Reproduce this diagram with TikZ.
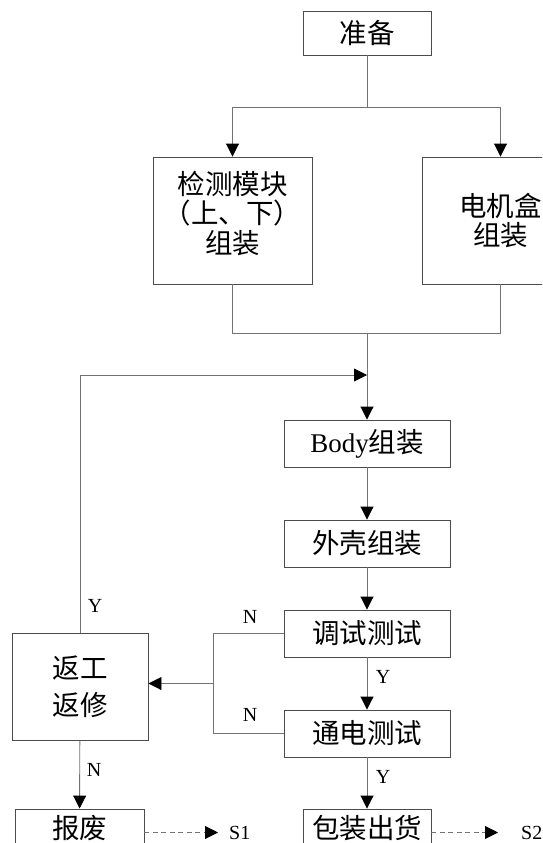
\documentclass[tikz,border=0pt]{standalone}
\usepackage{fontspec}
\setmainfont{Liberation Serif}
\newfontfamily\cjk{Noto Sans CJK SC}
\usetikzlibrary{arrows.meta}
\tikzset{
  box/.style={draw=black!70, line width=0.9pt, fill=white, inner sep=0pt, align=center,
    font=\fontsize{27.5}{29.5}\selectfont\cjk},
  boxtext/.style={inner sep=0pt, align=center, font=\fontsize{27.5}{29.5}\selectfont\cjk},
  flow/.style={draw=black!55, line width=0.9pt},
  arr/.style={flow, -{Triangle[length=13pt,width=13pt,color=black]}},
  darr/.style={arr, dash pattern=on 5pt off 3.5pt},
  lbl/.style={font=\fontsize{20}{20}\selectfont, inner sep=0pt},
}
\begin{document}
\begin{tikzpicture}[x=1pt,y=-1pt]
\useasboundingbox (0,0) rectangle (542,843);
\clip (0,0) rectangle (542,843);
% boxes
\node[box, minimum width=128pt, minimum height=44pt] (prep) at (367,33) {准备};
\node[box, minimum width=159pt, minimum height=127pt] (jc) at (232.5,220.5) {};
\node[boxtext] (jct) at ([yshift=7pt]jc.center) {检测模块\\（上、下）\\组装};
\node[box, minimum width=157pt, minimum height=127pt] (dj) at (500.5,220.5) {电机盒\\组装};
\node[box, minimum width=166pt, minimum height=47pt] (body) at (367,443.5) {{\rmfamily\fontsize{27}{29}\selectfont Body}组装};
\node[box, minimum width=166pt, minimum height=47pt] (shell) at (367,543.5) {外壳组装};
\node[box, minimum width=166pt, minimum height=47pt] (tiao) at (367,633.5) {调试测试};
\node[box, minimum width=166pt, minimum height=47pt] (tong) at (367,733.5) {通电测试};
\node[box, minimum width=128pt, minimum height=46pt] (pack) at (367,832) {};
\node[boxtext] (packt) at ([yshift=4pt]pack.center) {包装出货};
\node[box, minimum width=136pt, minimum height=107pt, font=\fontsize{27.5}{37}\selectfont\cjk] (fan) at (80,686.5) {返工\\返修};
\node[box, minimum width=129pt, minimum height=46pt] (bao) at (79.5,832) {};
\node[boxtext] (baot) at ([yshift=4pt]bao.center) {报废};
% coordinates
\coordinate (split) at (367,107);
\coordinate (merge) at (367,333);
\coordinate (fb) at (367,375);
\coordinate (brk) at (213,683.5);
\coordinate (s1) at (218,832.5);
\coordinate (s2) at (498,832.5);
% connectors
\draw[flow] (prep.south) -- (split);
\draw[arr] (split) -| (jc.north);
\draw[arr] (split) -| (dj.north);
\draw[flow] (jc.south) |- (merge);
\draw[flow] (dj.south) |- (merge);
\draw[arr] (merge) -- (body.north);
\draw[arr] (fan.north) |- (fb);
\draw[arr] (body) -- (shell);
\draw[arr] (shell) -- (tiao);
\draw[arr] (tiao) -- (tong);
\draw[arr] (tong) -- (pack);
\draw[flow] (tiao.west) -| (brk);
\draw[flow] (tong.west) -| (brk);
\draw[arr] (brk) -- (brk -| fan.east);
\draw[arr] (fan) -- (bao);
\draw[darr] (bao.east |- s1) -- (s1);
\draw[darr] (pack.east |- s2) -- (s2);
% labels
\node[lbl] (ly1) at (95,606) {Y};
\node[lbl] (ln1) at (250,617) {N};
\node[lbl] (ln2) at (250,715) {N};
\node[lbl] (ly2) at (383,677) {Y};
\node[lbl] (ly3) at (383,777) {Y};
\node[lbl] (ln3) at (94,770) {N};
\node[lbl, anchor=west] (ls1) at (229,832.5) {S1};
\node[lbl, anchor=west] (ls2) at (521,832.5) {S2};
\end{tikzpicture}
\end{document}
